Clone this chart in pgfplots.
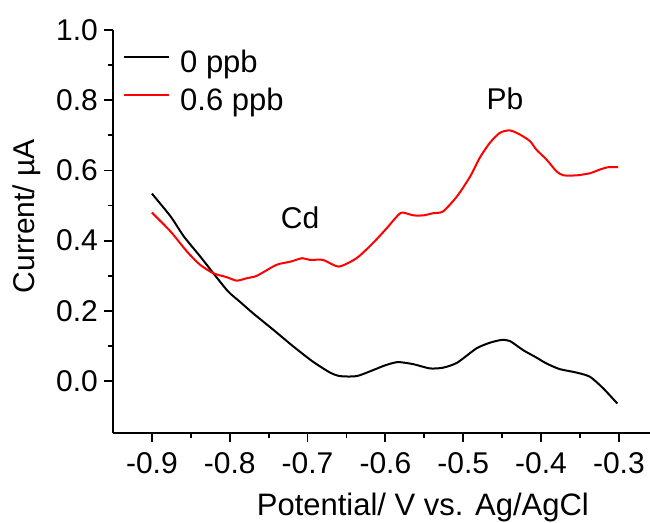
\documentclass[border=0pt]{standalone}
\usepackage{fontspec}
\setmainfont{Liberation Sans}
\usepackage{pgfplots}
\pgfplotsset{compat=1.18}
\begin{document}
\begin{tikzpicture}
\begin{axis}[
  name=ax,
  scale only axis,
  width=537pt, height=403pt,
  xmin=-0.95, xmax=-0.26,
  ymin=-0.148, ymax=1.0,
  axis lines=left,
  axis line style={-, line width=2pt},
  every tick/.style={black, line width=1.8pt},
  tick align=outside,
  major tick length=9pt,
  minor tick length=5pt,
  xtick={-0.9,-0.8,...,-0.3},
  ytick={0,0.2,...,1.0},
  minor x tick num=1,
  minor y tick num=1,
  /pgf/number format/assume math mode=true,
  xticklabel style={font=\fontsize{30}{36}\selectfont, inner sep=0pt, yshift=-10pt},
  yticklabel style={font=\fontsize{30}{36}\selectfont, inner sep=0pt, xshift=-6pt},
  x tick label style={/pgf/number format/.cd, fixed, fixed zerofill, precision=1},
  y tick label style={/pgf/number format/.cd, fixed, fixed zerofill, precision=1},
  xlabel={Potential/ V vs. Ag/AgCl},
  ylabel={Current/ \textmu A},
  xlabel style={font=\fontsize{31}{36}\selectfont, at={(axis description cs:0.577,-0.204)}, anchor=base, inner sep=0pt},
  ylabel style={font=\fontsize{30}{36}\selectfont, at={(axis description cs:-0.147,0.538)}, anchor=base, inner sep=0pt},
  legend style={draw=none, fill=none, at={(axis description cs:0.0186,0.9504)}, anchor=north west, inner sep=0pt, font=\fontsize{31}{36}\selectfont, row sep=9pt, nodes={inner sep=0pt, text height=22pt, text depth=7pt}},
  legend cell align=left,
  legend image code/.code={\draw[#1, line width=2pt] (0pt,8pt) -- (45pt,8pt);},
  legend columns=1,
]
\addplot[black, line width=2pt, line join=round, smooth, tension=0.4] coordinates {
(-0.900,0.534) (-0.876,0.469) (-0.859,0.412) (-0.838,0.355) (-0.821,0.307)
(-0.802,0.255) (-0.787,0.226) (-0.770,0.193) (-0.744,0.146) (-0.718,0.098)
(-0.693,0.055) (-0.671,0.024) (-0.658,0.014) (-0.637,0.014) (-0.616,0.031)
(-0.600,0.045) (-0.584,0.054) (-0.564,0.048) (-0.543,0.036) (-0.526,0.038)
(-0.508,0.052) (-0.483,0.093) (-0.466,0.109) (-0.451,0.117) (-0.440,0.114)
(-0.423,0.088) (-0.406,0.067) (-0.393,0.050) (-0.376,0.034) (-0.354,0.024)
(-0.337,0.012) (-0.320,-0.021) (-0.302,-0.064)
};
\addlegendentry{\hspace{10pt}0 ppb}
\addplot[red, line width=2pt, line join=round, smooth, tension=0.4] coordinates {
(-0.900,0.480) (-0.876,0.426) (-0.855,0.369) (-0.838,0.331) (-0.821,0.307)
(-0.804,0.296) (-0.791,0.286) (-0.778,0.293) (-0.765,0.300) (-0.740,0.331)
(-0.722,0.340) (-0.707,0.350) (-0.697,0.345) (-0.680,0.345) (-0.660,0.326)
(-0.637,0.350) (-0.616,0.393) (-0.598,0.436) (-0.588,0.462) (-0.579,0.480)
(-0.564,0.472) (-0.551,0.472) (-0.539,0.478) (-0.526,0.483) (-0.508,0.526)
(-0.491,0.583) (-0.479,0.635) (-0.466,0.678) (-0.453,0.707) (-0.440,0.714)
(-0.427,0.702) (-0.414,0.683) (-0.406,0.659) (-0.393,0.631) (-0.380,0.597)
(-0.371,0.586) (-0.354,0.586) (-0.337,0.592) (-0.325,0.602) (-0.314,0.609)
(-0.301,0.609)
};
\addlegendentry{\hspace{10pt}0.6 ppb}
\node[font=\fontsize{30}{36}\selectfont, inner sep=0pt] at (axis cs:-0.7096,0.465) {Cd};
\node[font=\fontsize{30}{36}\selectfont, inner sep=0pt] at (axis cs:-0.4465,0.804) {Pb};
\end{axis}
\pgfresetboundingbox
\path ([shift={(-113pt,-89pt)}]ax.south west) rectangle ([shift={(537pt,433pt)}]ax.south west);
\end{tikzpicture}
\end{document}
